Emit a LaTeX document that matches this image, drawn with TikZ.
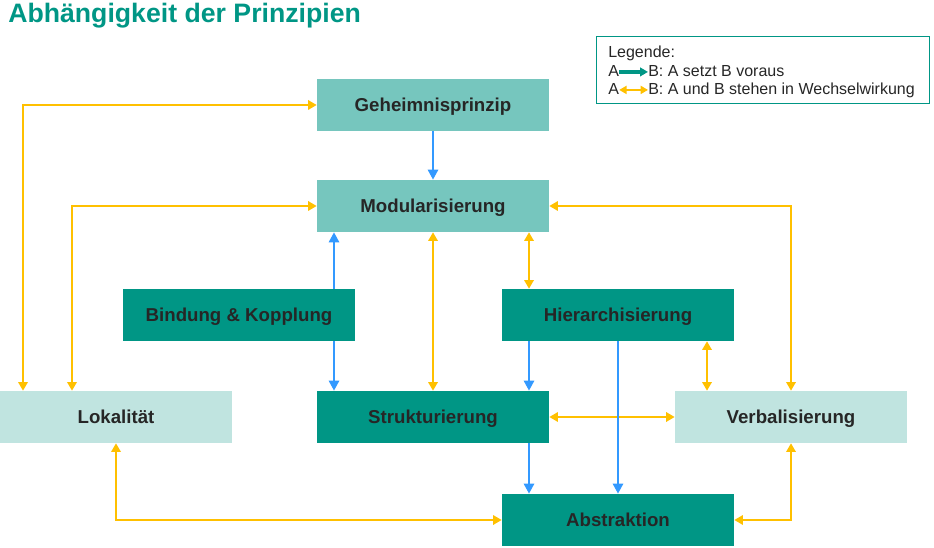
\documentclass[tikz,border=0pt]{standalone}
\usepackage{fontspec}
\setmainfont{Liberation Sans}
\usetikzlibrary{arrows.meta}

\definecolor{tuerkis}{HTML}{009685}
\definecolor{tuerkismittel}{HTML}{76C6BE}
\definecolor{tuerkishell}{HTML}{C0E4E0}
\definecolor{pfeilblau}{HTML}{3399FF}
\definecolor{pfeilgelb}{HTML}{FFC000}
\definecolor{schrift}{HTML}{262626}

\tikzset{
  prinzip/.style={rectangle, minimum width=174pt, minimum height=39pt, inner sep=0pt,
    text height=10pt, text depth=0pt,
    font=\fontsize{14}{16}\selectfont\bfseries, text=schrift},
  hell/.style={prinzip, fill=tuerkishell},
  mittel/.style={prinzip, fill=tuerkismittel},
  dunkel/.style={prinzip, fill=tuerkis},
  voraus/.style={draw=pfeilblau, line width=2pt, -{Triangle[length=7.5pt,width=7.5pt]}},
  wechsel/.style={draw=pfeilgelb, line width=1.7pt,
    {Triangle[length=6.5pt,width=7pt]}-{Triangle[length=6.5pt,width=7pt]}},
  legtext/.style={anchor=base west, inner sep=0pt, font=\fontsize{12}{14}\selectfont, text=schrift},
}

\begin{document}
\begin{tikzpicture}[x=0.75pt, y=-0.75pt]
    \useasboundingbox (0,0) rectangle (934,548);

    % Titel
    \node[anchor=base west, inner sep=0pt, text=tuerkis, font=\fontsize{20}{24}\selectfont\bfseries] (titel) at (8,23) {Abhängigkeit der Prinzipien};

    % Prinzipien
    \node[mittel] (geh) at (433,105) {Geheimnisprinzip};
    \node[mittel] (mod) at (433,206) {Modularisierung};
    \node[dunkel] (bind) at (239,315) {Bindung \& Kopplung};
    \node[dunkel] (hier) at (618,315) {Hierarchisierung};
    \node[hell] (lok) at (116,417) {Lokalität};
    \node[dunkel] (struk) at (433,417) {Strukturierung};
    \node[hell] (verb) at (791,417) {Verbalisierung};
    \node[dunkel] (abs) at (618,520) {Abstraktion};

    % Wechselwirkung
    \draw[wechsel] (lok.north -| 23,0) |- (geh.west);
    \draw[wechsel] (lok.north -| 72,0) |- (mod.west);
    \draw[wechsel] (lok.south) |- (abs.west);
    \draw[wechsel] (mod.east) -| (verb.north);
    \draw[wechsel] (abs.east) -| (verb.south);
    \draw[wechsel] (mod.south) -- (struk.north);
    \draw[wechsel] (mod.south -| 529,0) -- (hier.north -| 529,0);
    \draw[wechsel] (hier.south -| 707,0) -- (verb.north -| 707,0);
    \draw[wechsel] (struk.east) -- (verb.west);

    % A setzt B voraus
    \draw[voraus] (geh) -- (mod);
    \draw[voraus] (bind.north -| 334,0) -- (mod.south -| 334,0);
    \draw[voraus] (bind.south -| 334,0) -- (struk.north -| 334,0);
    \draw[voraus] (hier.south -| 529,0) -- (struk.north -| 529,0);
    \draw[voraus] (hier.south) -- (abs.north);
    \draw[voraus] (struk.south -| 529,0) -- (abs.north -| 529,0);

    % Legende
    \node[draw=tuerkis, line width=0.75pt, minimum width=249.75pt, minimum height=50.25pt, inner sep=0pt] (legende) at (762.5,70.5) {};
    \node[legtext] (leg) at (608,58) {Legende:};
    \node[legtext] (la1) at (608,77) {A};
    \node[legtext] (lb1) at (648,77) {B: A setzt B voraus};
    \node[legtext] (la2) at (608,95) {A};
    \node[legtext] (lb2) at (648,95) {B: A und B stehen in Wechselwirkung};
    \draw[draw=tuerkis, line width=2.4pt, -{Triangle[length=6pt,width=6.5pt]}] ([yshift=3.8pt]la1.base east) -- ([yshift=3.8pt]lb1.base west);
    \draw[draw=pfeilgelb, line width=1.6pt, {Triangle[length=5.5pt,width=6pt]}-{Triangle[length=5.5pt,width=6pt]}] ([yshift=3.8pt]la2.base east) -- ([yshift=3.8pt]lb2.base west);
\end{tikzpicture}
\end{document}
